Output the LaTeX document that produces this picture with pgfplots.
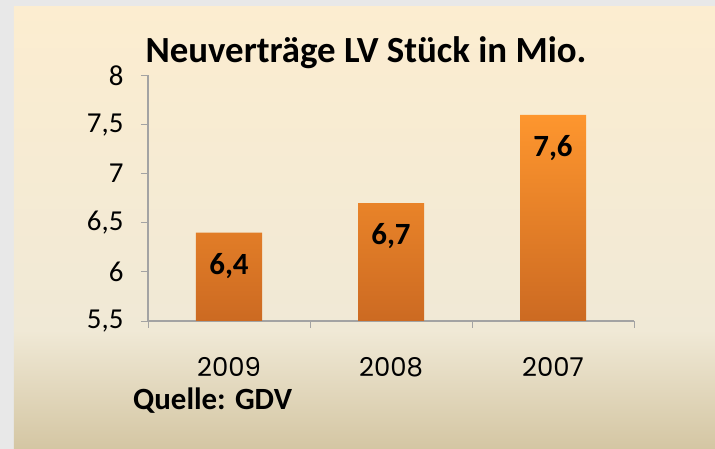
\documentclass[border=0pt]{standalone}
\usepackage{pgfplots}
\pgfplotsset{compat=1.18}
\usepackage{fontspec}
\setmainfont{Carlito}
\newfontfamily\gothic{Poppins}
\definecolor{outergray}{HTML}{E8E8E8}
\definecolor{creamtop}{HTML}{FCEDD0}
\definecolor{creammid}{HTML}{F0E9D6}
\definecolor{tanbottom}{HTML}{D4C6A3}
\definecolor{axisgray}{HTML}{A3A3A3}
\definecolor{bartop}{HTML}{FE962E}
\definecolor{barbottom}{HTML}{CC6A22}

\begin{document}
\begin{tikzpicture}
% background panel
\fill[outergray] (-148bp,-128bp) rectangle (567bp,321bp);
\shade[top color=creamtop, bottom color=creammid] (-134bp,-9bp) rectangle (567bp,314bp);
\shade[top color=creammid, bottom color=tanbottom] (-134bp,-128bp) rectangle (567bp,-9bp);

\begin{axis}[
  at={(0,0)}, anchor=south west,
  scale only axis, width=486bp, height=245.5bp,
  xmin=0.5, xmax=3.5, ymin=5.5, ymax=8,
  axis x line*=bottom, axis y line*=left,
  axis line style={draw=axisgray, line width=1.1pt},
  ybar, bar width=66bp,
  ytick={5.5,6,6.5,7,7.5,8},
  xtick={0.5,1.5,2.5,3.5}, xticklabels={},
  extra x ticks={1,2,3},
  extra x tick labels={2009,2008,2007},
  extra x tick style={major tick length=0pt,
    tick label style={font=\gothic\fontsize{26}{28}\selectfont, anchor=base, text depth=0pt, yshift=-55bp}},
  tick align=outside, major tick length=7bp,
  tick style={draw=axisgray, line width=1pt},
  yticklabel style={font=\fontsize{29}{31}\selectfont, xshift=-14bp},
  /pgf/number format/.cd, use comma, fixed, assume math mode=true,
  /pgfplots/.cd,
  nodes near coords,
  nodes near coords style={font=\bfseries\fontsize{31}{33}\selectfont, anchor=center, yshift=-33bp,
    /pgf/number format/precision=1},
]
\addplot[draw=none, top color=bartop, bottom color=barbottom]
  coordinates {(1,6.4) (2,6.7) (3,7.6)};
\end{axis}

\node[font=\bfseries\fontsize{37}{40}\selectfont, anchor=base] at (218bp,258bp) {Neuverträge LV Stück in Mio.};
\node[font=\bfseries\fontsize{31}{34}\selectfont, anchor=base west, inner sep=0pt] at (-15bp,-88bp) {Quelle: GDV};

\pgfresetboundingbox
\path (-148bp,-128bp) rectangle (567bp,321bp);
\end{tikzpicture}
\end{document}
